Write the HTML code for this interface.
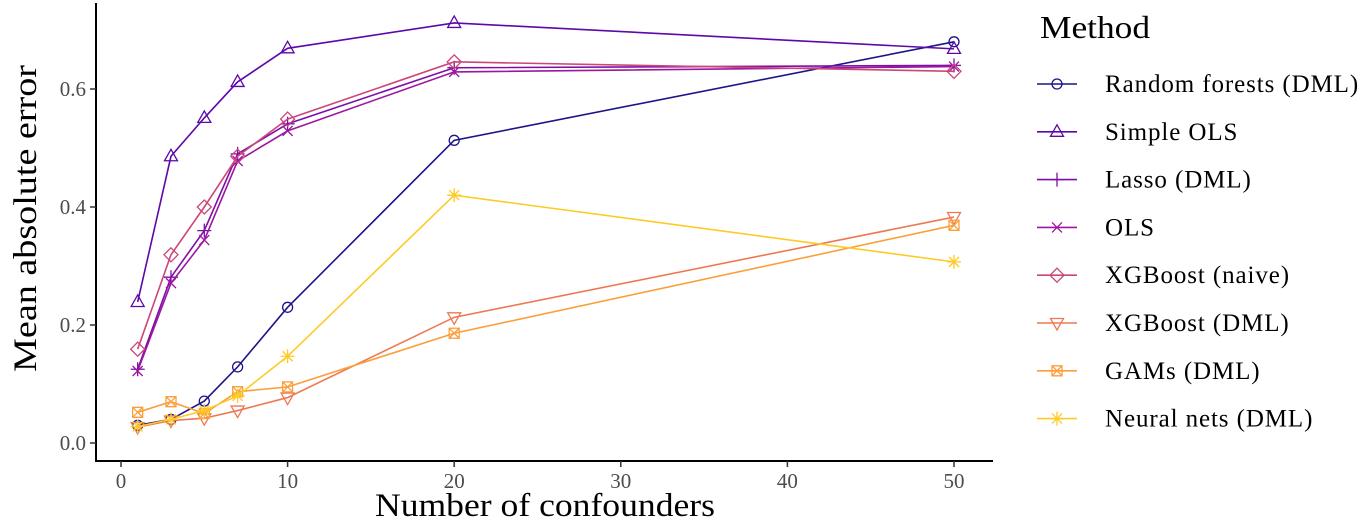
<!DOCTYPE html>
<html><head><meta charset="utf-8"><style>
body{margin:0;background:#fff}
svg{display:block;font-family:"Liberation Serif",serif}
</style></head><body>
<svg id="chart" width="1371" height="525"></svg>
<script>
const xs=[1,3,5,7,10,20,50];
const seriesNames=["Random forests (DML)","Simple OLS","Lasso (DML)","OLS","XGBoost (naive)","XGBoost (DML)","GAMs (DML)","Neural nets (DML)"];
const rf=[0.030,0.040,0.071,0.129,0.230,0.513,0.680];
const simpleOls=[0.239,0.486,0.551,0.612,0.669,0.712,0.668];
const lasso=[0.125,0.281,0.360,0.490,0.541,0.636,0.640];
const ols=[0.122,0.271,0.344,0.478,0.529,0.629,0.638];
const xgbNaive=[0.159,0.319,0.400,0.486,0.549,0.646,0.630];
const xgbDml=[0.027,0.038,0.042,0.055,0.077,0.213,0.383];
const gam=[0.052,0.070,0.050,0.087,0.095,0.186,0.369];
const nn=[0.028,0.040,0.055,0.080,0.147,0.420,0.307];
const xTicks=[0,10,20,30,40,50];
const yTicks=[0,0.2,0.4,0.6];
const yTickLabels=["0.0","0.2","0.4","0.6"];
const all=[rf,simpleOls,lasso,ols,xgbNaive,xgbDml,gam,nn];
const colors=["#1c1488","#5d08a8","#7d0fa8","#9c179e","#cc4778","#ed7953","#fb9f3a","#fdca26"];
const shapes=["circle","triangle","plus","cross","diamond","tridown","squarex","star"];
const X=v=>121+v*16.66, Y=v=>443-v*590;
const svg=document.getElementById('chart');const NS="http://www.w3.org/2000/svg";
function el(t,a,p){const e=document.createElementNS(NS,t);for(const k in a)e.setAttribute(k,a[k]);(p||svg).appendChild(e);return e;}
function marker(g,s,x,y,c){const st={stroke:c,fill:'none','stroke-width':1.3};let e;
 if(s=='circle')e=el('circle',{cx:x,cy:y,r:5,...st},g);
 else if(s=='triangle')e=el('polygon',{points:`${x},${y-7} ${x-6.5},${y+4.5} ${x+6.5},${y+4.5}`,...st},g);
 else if(s=='tridown')e=el('polygon',{points:`${x},${y+7} ${x-6.5},${y-4.5} ${x+6.5},${y-4.5}`,...st},g);
 else if(s=='diamond')e=el('polygon',{points:`${x},${y-7} ${x+7},${y} ${x},${y+7} ${x-7},${y}`,...st},g);
 else if(s=='plus')e=el('path',{d:`M${x-7},${y}H${x+7}M${x},${y-7}V${y+7}`,...st},g);
 else if(s=='cross')e=el('path',{d:`M${x-5},${y-5}L${x+5},${y+5}M${x-5},${y+5}L${x+5},${y-5}`,...st},g);
 else if(s=='squarex')e=el('path',{d:`M${x-5},${y-5}h10v10h-10zM${x-5},${y-5}L${x+5},${y+5}M${x-5},${y+5}L${x+5},${y-5}`,...st},g);
 else e=el('path',{d:`M${x-7},${y}H${x+7}M${x},${y-7}V${y+7}M${x-5},${y-5}L${x+5},${y+5}M${x-5},${y+5}L${x+5},${y-5}`,...st},g);
 
 }
const ax=el('path',{d:'M96,3V461H993',stroke:'#000','stroke-width':2,fill:'none'});


yTicks.forEach((v,i)=>{el('line',{x1:90,x2:96,y1:Y(v),y2:Y(v),stroke:'#333','stroke-width':1.5});
 const t=el('text',{x:86,y:Y(v)+7,'text-anchor':'end','font-size':21,fill:'#4d4d4d'});t.textContent=yTickLabels[i];
 
 });
xTicks.forEach(v=>{el('line',{x1:X(v),x2:X(v),y1:461,y2:467,stroke:'#333','stroke-width':1.5});
 const t=el('text',{x:X(v),y:488,'text-anchor':'middle','font-size':21,fill:'#4d4d4d'});t.textContent=v;
 
 });
let t=el('text',{x:375,y:516,'font-size':33,textLength:340,lengthAdjust:'spacingAndGlyphs'});t.textContent='Number of confounders';


t=el('text',{transform:'translate(36,372) rotate(-90)','font-size':33,textLength:307,lengthAdjust:'spacingAndGlyphs'});t.textContent='Mean absolute error';


all.forEach((d,i)=>{const g=el('g',{});
 
 
 el('polyline',{points:d.map((v,j)=>X(xs[j])+','+Y(v)).join(' '),fill:'none',stroke:colors[i],'stroke-width':1.6},g);
 d.forEach((v,j)=>marker(g,shapes[i],X(xs[j]),Y(v),colors[i]));});
t=el('text',{x:1040,y:38,'font-size':32,textLength:110,lengthAdjust:'spacingAndGlyphs'});t.textContent='Method';


seriesNames.forEach((n,i)=>{const y=84+i*47.8;const g=el('g',{});
 
 
 el('line',{x1:1037,x2:1077,y1:y,y2:y,stroke:colors[i],'stroke-width':1.6},g);
 marker(g,shapes[i],1057,y,colors[i]);
 const tt=el('text',{x:1105,y:y+8,'font-size':25,'letter-spacing':0.9},g);tt.textContent=n;});
</script>
</body></html>
